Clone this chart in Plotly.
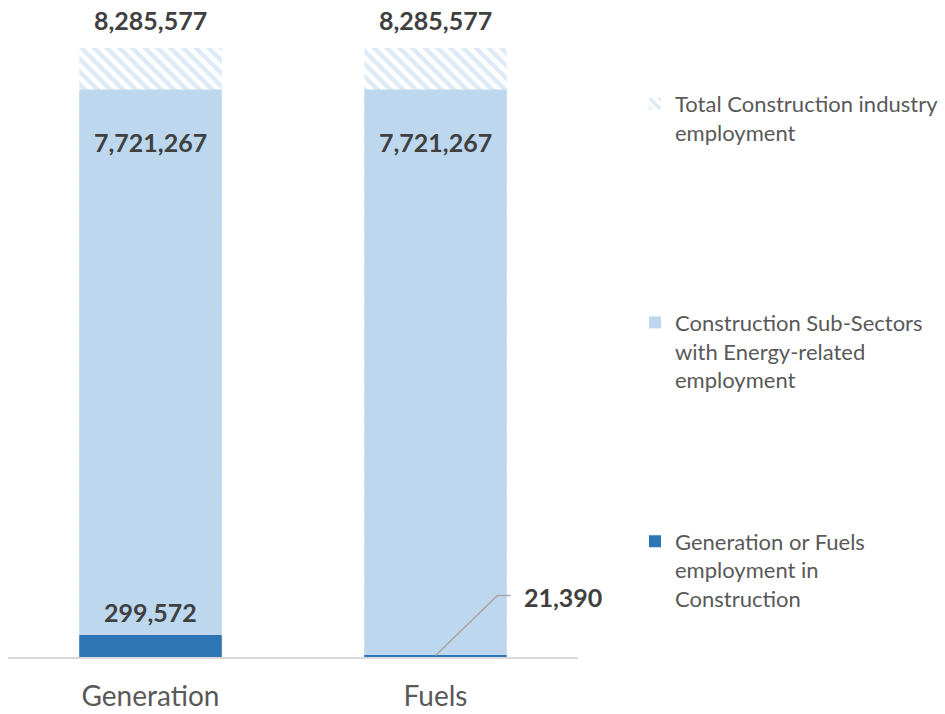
import plotly.graph_objects as go

categories = ["Generation", "Fuels"]
total_construction = [8285577, 8285577]
energy_subsectors = [7721267, 7721267]
gen_fuels_construction = [299572, 21390]

series_names = [
    "Total Construction industry<br>employment<br> ",
    "Construction Sub-Sectors<br>with Energy-related<br>employment",
    "Generation or Fuels<br>employment in<br>Construction",
]

LIGHT = "#BDD7EE"
DARK = "#2E75B6"
NUM = "#404040"
GREY = "#595959"
FONT = "Lato"

W, H = 945, 714

fig = go.Figure()
fig.add_trace(go.Bar(
    x=categories, y=total_construction, name=series_names[0], width=0.5,
    marker=dict(color="white", line=dict(width=0),
                pattern=dict(shape="\\", fgcolor=LIGHT, bgcolor="white", size=9, solidity=0.5)),
    legendgroup="a", hoverinfo="skip",
))
fig.add_trace(go.Bar(
    x=categories, y=energy_subsectors, name=series_names[1], width=0.5,
    marker=dict(color=LIGHT, line=dict(width=0)), legendgroup="b", hoverinfo="skip",
))
fig.add_trace(go.Bar(
    x=categories, y=gen_fuels_construction, name=series_names[2], width=0.5,
    marker=dict(color=DARK, line=dict(width=0)), legendgroup="c", hoverinfo="skip",
))

annotations = []
lab_font = dict(family=FONT, size=25, color=NUM, weight="bold")
for i, c in enumerate(categories):
    annotations.append(dict(x=c, y=total_construction[i], text=f"{total_construction[i]:,}",
                            showarrow=False, yshift=28, font=lab_font))
    annotations.append(dict(x=c, y=energy_subsectors[i], text=f"{energy_subsectors[i]:,}",
                            showarrow=False, yshift=-52, font=lab_font))
    if gen_fuels_construction[i] > 100000:
        annotations.append(dict(x=c, y=gen_fuels_construction[i], text=f"{gen_fuels_construction[i]:,}",
                                showarrow=False, yshift=23, font=lab_font))
    else:
        annotations.append(dict(x=c, y=gen_fuels_construction[i], text=f"{gen_fuels_construction[i]:,}",
                                showarrow=False, xanchor="left", xshift=86, yshift=58, font=lab_font))

shapes = []
for i, c in enumerate(categories):
    if gen_fuels_construction[i] <= 100000:
        shapes.append(dict(type="path", xref="x", yref="y",
                           xsizemode="pixel", ysizemode="pixel",
                           xanchor=i, yanchor=gen_fuels_construction[i],
                           path="M0,0 L62,60 L75,60",
                           line=dict(color="#A6A6A6", width=1.5)))

fig.update_layout(
    width=W, height=H,
    margin=dict(l=0, r=0, t=0, b=57),
    barmode="overlay",
    plot_bgcolor="white", paper_bgcolor="white",
    font=dict(family=FONT, color=GREY),
    showlegend=True,
    legend=dict(x=635 / W, xanchor="left", y=1 - 90 / H, yanchor="top",
                font=dict(family=FONT, size=22, color=GREY),
                traceorder="grouped", tracegroupgap=130, valign="top",
                bgcolor="rgba(0,0,0,0)"),
    xaxis=dict(domain=[8 / W, 578 / W], range=[-0.5, 1.5], autorange=False,
               showline=True, linecolor="#D9D9D9", linewidth=1.5, ticks="",
               tickfont=dict(family=FONT, size=28, color=GREY), ticklabelstandoff=14,
               showgrid=False, zeroline=False, fixedrange=True),
    yaxis=dict(range=[0, 8.94e6], visible=False, showgrid=False, zeroline=False, fixedrange=True),
    annotations=annotations,
    shapes=shapes,
)

fig.write_html("out.html", config={"displayModeBar": False},
               post_script="document.body.style.margin='0';document.body.style.overflow='hidden';")
